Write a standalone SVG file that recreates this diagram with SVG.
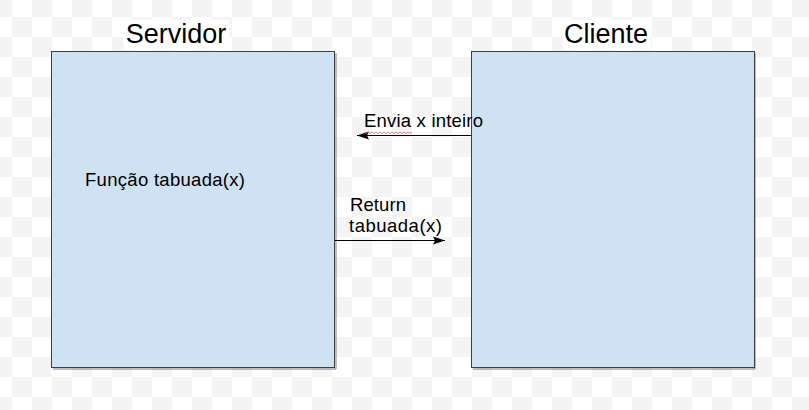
<svg xmlns="http://www.w3.org/2000/svg" width="809" height="410" viewBox="0 0 809 410">
  <defs>
    <pattern id="checker" patternUnits="userSpaceOnUse" x="-8" y="-3" width="40" height="40">
      <rect width="40" height="40" fill="#ffffff"/>
      <rect width="20" height="20" fill="#f4f4f4"/>
      <rect x="20" y="20" width="20" height="20" fill="#f4f4f4"/>
    </pattern>
    <marker id="arrow" markerUnits="userSpaceOnUse" markerWidth="14" markerHeight="10" refX="12" refY="5" orient="auto">
      <path d="M0,1 L12,5 L0,9 L2,5 Z" fill="#000"/>
    </marker>
    <style>
      .box { fill: #cfe2f3; stroke: #3f3f3f; stroke-width: 1; }
      .shadow { fill: none; stroke: #808080; stroke-width: 1; }
      .title { font-family: "Liberation Sans", Arial, sans-serif; font-size: 27px; fill: #000; }
      .label { font-family: "Liberation Sans", Arial, sans-serif; font-size: 18.5px; fill: #000; }
      .conn { stroke: #000; stroke-width: 1; fill: none; marker-end: url(#arrow); }
    </style>
  </defs>
  <rect width="809" height="410" fill="url(#checker)"/>

  <g id="servidor">
    <rect x="123" y="20" width="106" height="30" fill="#ffffff"/>
    <text class="title" x="176" y="43" text-anchor="middle">Servidor</text>
    <polyline class="shadow" points="336,53 336,369 53,369"/>
    <rect class="box" x="51.5" y="51.5" width="283" height="316"/>
    <text class="label" x="85" y="186" textLength="160">Função tabuada(x)</text>
  </g>

  <g id="cliente">
    <rect x="563" y="20" width="88" height="30" fill="#ffffff"/>
    <text class="title" x="606" y="43" text-anchor="middle">Cliente</text>
    <polyline class="shadow" points="755,53 755,369 473,369"/>
    <rect class="box" x="471.5" y="51.5" width="283" height="316"/>
  </g>

  <g id="connectors">
    <line class="conn" x1="471" y1="135.5" x2="357" y2="135.5"/>
    <line class="conn" x1="335" y1="240.5" x2="445" y2="240.5"/>
  </g>

  <g id="labels">
    <text class="label" x="364" y="127" textLength="119">Envia x inteiro</text>
    <path d="M364,132 l2,1.5 l2,-1.5 l2,1.5 l2,-1.5 l2,1.5 l2,-1.5 l2,1.5 l2,-1.5 l2,1.5 l2,-1.5 l2,1.5 l2,-1.5 l2,1.5 l2,-1.5 l2,1.5 l2,-1.5 l2,1.5 l2,-1.5 l2,1.5 l2,-1.5 l2,1.5 l2,-1.5 l2,1.5 l2,-1.5" fill="none" stroke="#e06666" stroke-width="0.8"/>
    <text class="label" x="350" y="211" textLength="56">Return</text>
    <text class="label" x="349" y="232" textLength="93">tabuada(x)</text>
  </g>
</svg>
